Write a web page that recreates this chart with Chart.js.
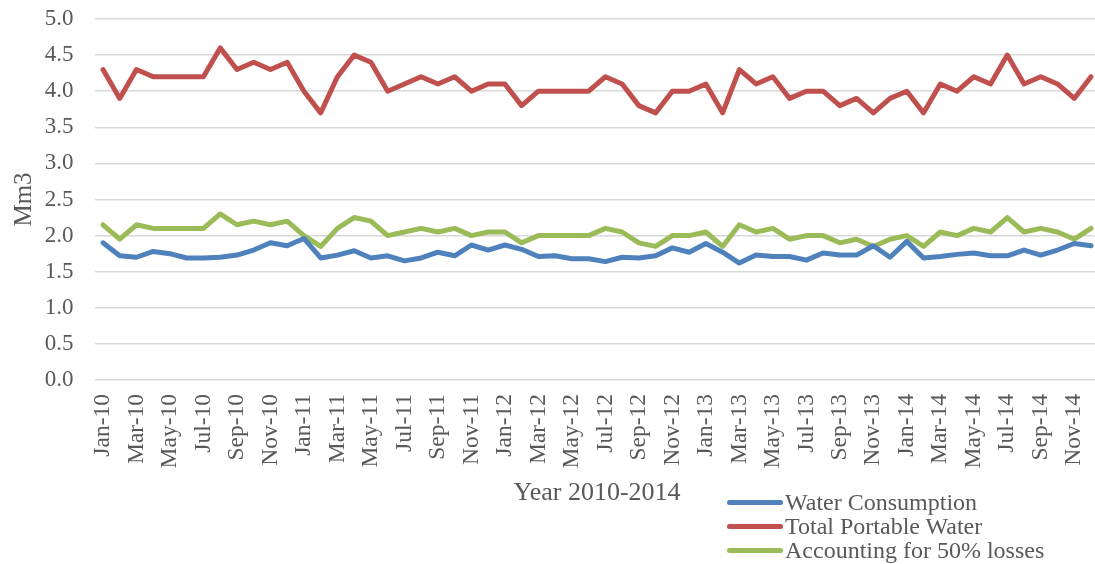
<!DOCTYPE html>
<html>
<head>
<meta charset="utf-8">
<script src="https://cdn.jsdelivr.net/npm/chart.js@4/dist/chart.umd.min.js"></script>
<style>
  html, body { margin: 0; padding: 0; background: #fff; overflow: hidden; }
  #wrap { position: relative; width: 1100px; height: 564px; }
  #legend { position: absolute; left: 727px; top: 490px; font-family: "Liberation Serif", "Times New Roman", serif; font-size: 24px; color: #595959; }
  .row { position: relative; height: 24px; line-height: 24px; white-space: nowrap; }
  .sw { position: absolute; left: 0; top: 10px; width: 56px; height: 5px; border-radius: 3px; }
  .lbl { position: absolute; left: 58px; top: 0; }
</style>
</head>
<body>
<div id="wrap">
  <canvas id="c" width="1100" height="564"></canvas>
  <div id="legend"></div>
</div>
<script>
const categories = [
  "Jan-10","Feb-10","Mar-10","Apr-10","May-10","Jun-10","Jul-10","Aug-10","Sep-10","Oct-10","Nov-10","Dec-10",
  "Jan-11","Feb-11","Mar-11","Apr-11","May-11","Jun-11","Jul-11","Aug-11","Sep-11","Oct-11","Nov-11","Dec-11",
  "Jan-12","Feb-12","Mar-12","Apr-12","May-12","Jun-12","Jul-12","Aug-12","Sep-12","Oct-12","Nov-12","Dec-12",
  "Jan-13","Feb-13","Mar-13","Apr-13","May-13","Jun-13","Jul-13","Aug-13","Sep-13","Oct-13","Nov-13","Dec-13",
  "Jan-14","Feb-14","Mar-14","Apr-14","May-14","Jun-14","Jul-14","Aug-14","Sep-14","Oct-14","Nov-14","Dec-14"
];

const waterConsumption = [
  1.90,1.72,1.70,1.78,1.75,1.69,1.69,1.70,1.73,1.80,1.90,1.86,
  1.96,1.69,1.73,1.79,1.69,1.72,1.65,1.69,1.77,1.72,1.87,1.80,
  1.87,1.81,1.71,1.72,1.68,1.68,1.64,1.70,1.69,1.72,1.83,1.77,
  1.89,1.77,1.62,1.73,1.71,1.71,1.66,1.76,1.73,1.73,1.86,1.70,
  1.92,1.69,1.71,1.74,1.76,1.72,1.72,1.80,1.73,1.80,1.89,1.86
];

const totalPortableWater = [
  4.3,3.9,4.3,4.2,4.2,4.2,4.2,4.6,4.3,4.4,4.3,4.4,
  4.0,3.7,4.2,4.5,4.4,4.0,4.1,4.2,4.1,4.2,4.0,4.1,
  4.1,3.8,4.0,4.0,4.0,4.0,4.2,4.1,3.8,3.7,4.0,4.0,
  4.1,3.7,4.3,4.1,4.2,3.9,4.0,4.0,3.8,3.9,3.7,3.9,
  4.0,3.7,4.1,4.0,4.2,4.1,4.5,4.1,4.2,4.1,3.9,4.2
];

const losses50 = [
  2.15,1.95,2.15,2.10,2.10,2.10,2.10,2.30,2.15,2.20,2.15,2.20,
  2.00,1.85,2.10,2.25,2.20,2.00,2.05,2.10,2.05,2.10,2.00,2.05,
  2.05,1.90,2.00,2.00,2.00,2.00,2.10,2.05,1.90,1.85,2.00,2.00,
  2.05,1.85,2.15,2.05,2.10,1.95,2.00,2.00,1.90,1.95,1.85,1.95,
  2.00,1.85,2.05,2.00,2.10,2.05,2.25,2.05,2.10,2.05,1.95,2.10
];

const seriesNames = ["Water Consumption", "Total Portable Water", "Accounting for 50% losses"];
const seriesColors = ["#4F81BD", "#C0504D", "#9BBB59"];
const yTicks = [0,0.5,1.0,1.5,2.0,2.5,3.0,3.5,4.0,4.5,5.0];
const xTitle = "Year 2010-2014";
const yTitle = "Mm3";

const FONT = '"Liberation Serif", "Times New Roman", serif';
const TXT = "#595959";

const seriesData = [waterConsumption, totalPortableWater, losses50];
const datasets = seriesData.map((d, i) => ({
  label: seriesNames[i],
  data: d,
  borderColor: seriesColors[i],
  backgroundColor: seriesColors[i],
  borderWidth: 5,
  pointRadius: 0,
  pointHoverRadius: 0,
  tension: 0,
  fill: false,
  borderCapStyle: 'round',
  borderJoinStyle: 'round'
}));

new Chart(document.getElementById('c'), {
  type: 'line',
  data: { labels: categories, datasets: datasets },
  options: {
    responsive: false,
    animation: false,
    events: [],
    layout: { padding: { top: 19, right: 0.6, bottom: 55, left: 0 } },
    plugins: { legend: { display: false }, tooltip: { enabled: false } },
    scales: {
      x: {
        type: 'category',
        offset: true,
        grid: { display: false, drawTicks: false },
        border: { display: false },
        ticks: {
          autoSkip: false,
          minRotation: 90,
          maxRotation: 90,
          padding: 14,
          labelOffset: 0,
          color: TXT,
          font: { family: FONT, size: 23.5 },
          callback: function (val, idx) { return idx % 2 === 0 ? this.getLabelForValue(val) : ''; }
        },
        title: { display: true, text: xTitle, color: TXT, font: { family: FONT, size: 26 }, padding: { top: 0, bottom: 0 } },
        afterFit: (s) => { s.height = 129; s.paddingLeft = 0; s.paddingRight = 0; }
      },
      y: {
        min: 0,
        max: 5,
        afterBuildTicks: (s) => { s.ticks = yTicks.map(v => ({ value: v })); },
        grid: { color: "#D9D9D9", lineWidth: 1.5, drawTicks: false },
        border: { display: false },
        ticks: {
          padding: 21,
          color: TXT,
          font: { family: FONT, size: 23 },
          callback: (v) => Number(v).toFixed(1)
        },
        title: { display: true, text: yTitle, color: TXT, font: { family: FONT, size: 25 }, padding: { top: 9, bottom: 0 } },
        afterFit: (s) => { s.width = 94.6; s.paddingTop = 0; s.paddingBottom = 0; }
      }
    }
  }
});

const legend = document.getElementById('legend');
seriesNames.forEach((n, i) => {
  const row = document.createElement('div');
  row.className = 'row';
  const sw = document.createElement('span');
  sw.className = 'sw';
  sw.style.background = seriesColors[i];
  const lb = document.createElement('span');
  lb.className = 'lbl';
  lb.textContent = n;
  row.appendChild(sw);
  row.appendChild(lb);
  legend.appendChild(row);
});
</script>
</body>
</html>
